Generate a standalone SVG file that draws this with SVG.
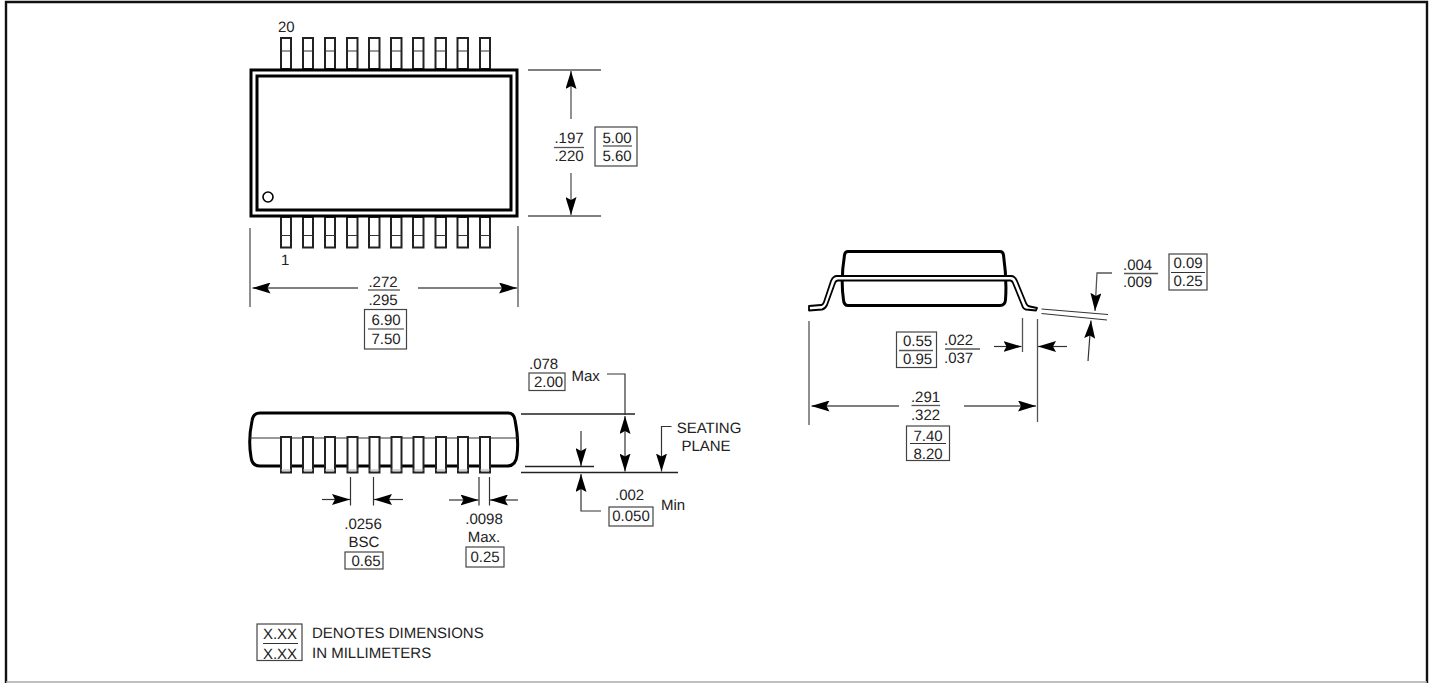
<svg xmlns="http://www.w3.org/2000/svg" width="1432" height="683" viewBox="0 0 1432 683">
<style>
text{font-family:"Liberation Sans",Arial,sans-serif;font-size:15px;fill:#222;text-rendering:geometricPrecision}
.m{text-anchor:middle}
.t{stroke:#555;stroke-width:1.3;fill:none}
.k{stroke:#333;stroke-width:1.2;fill:none}
.l{fill:#fff;stroke:#222;stroke-width:2}
.box{fill:#fff;stroke:#444;stroke-width:1.2}
</style>
<defs>
<marker id="a" viewBox="0 0 18 11" refX="18" refY="5.5" markerWidth="18" markerHeight="11" markerUnits="userSpaceOnUse" orient="auto-start-reverse"><path d="M0 0L18 5.5L0 11L3 5.5Z" fill="#000"/></marker>
</defs>
<rect width="1432" height="683" fill="#fff"/>
<g id="frame">
<path d="M6 683V2H1427V683" fill="none" stroke="#111" stroke-width="2.4"/>
<path d="M6 682H1427" fill="none" stroke="#aaa" stroke-width="1.4"/>
</g>
<g id="top-view">
<path class="l" d="M281 69V38H291V69ZM303 69V38H313V69ZM325 69V38H335V69ZM347 69V38H357.5V69ZM369 69V38H379.5V69ZM391 69V38H401.5V69ZM413 69V38H423.5V69ZM435.5 69V38H446V69ZM457.5 69V38H468V69ZM480 69V38H490V69Z"/>
<path class="k" d="M281 51H291M303 51H313M325 51H335M347 51H357M369 51H379M391 51H401M413 51H423M436 51H446M458 51H468M480 51H490"/>
<path class="l" d="M281 217V247.5H291V217ZM303 217V247.5H313V217ZM325 217V247.5H335V217ZM347 217V247.5H357.5V217ZM369 217V247.5H379.5V217ZM391 217V247.5H401.5V217ZM413 217V247.5H423.5V217ZM435.5 217V247.5H446V217ZM457.5 217V247.5H468V217ZM480 217V247.5H490V217Z"/>
<path class="k" d="M281 235.5H291M303 235.5H313M325 235.5H335M347 235.5H357M369 235.5H379M391 235.5H401M413 235.5H423M436 235.5H446M458 235.5H468M480 235.5H490"/>
<rect x="251" y="70" width="266" height="146" fill="#fff" stroke="#000" stroke-width="3"/>
<rect x="257" y="76" width="254" height="134" fill="#fff" stroke="#000" stroke-width="3"/>
<circle cx="268" cy="197" r="5" fill="#fff" stroke="#000" stroke-width="1.6"/>
<text x="278" y="32">20</text>
<text x="281" y="265">1</text>
</g>
<g id="bottom-view">
<path d="M260 413H508Q514 413 515 420Q519 440 517 455Q516 466 507 466H260Q252 466 251 457Q248 440 252 421Q253 413 260 413Z" fill="#fff" stroke="#000" stroke-width="3"/>
<path class="k" d="M250 438H518"/>
<path class="l" d="M281 437H291V472.5H281ZM303 437H313V472.5H303ZM325 437H335V472.5H325ZM347.5 437H357.5V472.5H347.5ZM369.5 437H379.5V472.5H369.5ZM391.5 437H401.5V472.5H391.5ZM413.5 437H423.5V472.5H413.5ZM436 437H446V472.5H436ZM458 437H468V472.5H458ZM480 437H490V472.5H480Z"/>
<path d="M281 470H291M303 470H313M325 470H335M347.5 470H357.5M369.5 470H379.5M391.5 470H401.5M413.5 470H423.5M436 470H446M458 470H468M480 470H490" stroke="#aaa" stroke-width="1" fill="none"/>
</g>
<g id="side-view">
<path d="M848 251.5H1000Q1003 251.5 1003.5 255Q1007 280 1005.5 300Q1005 305.5 1000 305.5H848Q844 305.5 843.5 300Q840.5 280 844.5 255Q845 251.5 848 251.5Z" fill="#fff" stroke="#000" stroke-width="3"/>
<path d="M809 306L821 305Q823 305 824 302L831 281Q833 276 837 276H1011Q1015 276 1017 281L1026 303Q1027 306 1030 306.5L1037 308L1036 310.5L1026 309.5Q1023 309 1022 305L1013 283Q1012 280.5 1010 280.5H838Q836 280.5 835 283L827 305Q825 309 822 309.5L809 310.5Z" fill="#fff" stroke="#000" stroke-width="1.8" stroke-linejoin="round"/>
</g>
<g id="connectors">
<path class="t" d="M528 70H601M528 216H601"/>
<path class="t" d="M571 119V71" marker-end="url(#a)"/>
<path class="t" d="M571 173V215" marker-end="url(#a)"/>
<path class="t" d="M250 228V307M518 226V307"/>
<path class="t" d="M358 288H252.5" marker-end="url(#a)"/>
<path class="t" d="M418 288H517" marker-end="url(#a)"/>
<path class="k" d="M350.5 477V505.5M373.5 477V505.5M479 477V505.5M489.5 477V505.5"/>
<path class="k" d="M322 499.5H350" marker-end="url(#a)"/>
<path class="k" d="M403 499.5H374" marker-end="url(#a)"/>
<path class="k" d="M449 500H478.5" marker-end="url(#a)"/>
<path class="k" d="M518 500H490" marker-end="url(#a)"/>
<path d="M521 414H635M525 466.5H594M521 472.5H678" stroke="#222" stroke-width="1.4" fill="none"/>
<path class="k" d="M607 374H625V415"/>
<path class="k" d="M625 440V416" marker-end="url(#a)"/>
<path class="k" d="M625 440V471.5" marker-end="url(#a)"/>
<path class="k" d="M581 431V466" marker-end="url(#a)"/>
<path class="k" d="M601 511H581V474" marker-end="url(#a)"/>
<path class="k" d="M671.5 426.5H661.5V471.5" marker-end="url(#a)"/>
<path class="t" d="M1112 273H1097L1095 311" marker-end="url(#a)"/>
<path class="k" d="M1041.5 309L1108 314.5M1041.5 313.5L1107 320"/>
<path class="k" d="M1088 361L1091 320.5" marker-end="url(#a)"/>
<path class="t" d="M809 321V425M1022.5 318V352M1037.5 319V422"/>
<path class="k" d="M994 346.5H1021.5" marker-end="url(#a)"/>
<path class="k" d="M1067 346.5H1038" marker-end="url(#a)"/>
<path class="t" d="M899 406H811.5" marker-end="url(#a)"/>
<path class="t" d="M964 406H1036" marker-end="url(#a)"/>
</g>
<g id="labels">
<g id="dim-height"><text class="m" x="569" y="143">.197</text><path class="t" d="M554 147.5H584"/><text class="m" x="569" y="161">.220</text>
<rect class="box" x="595" y="127" width="42" height="39"/><text class="m" x="617" y="143">5.00</text><path class="t" d="M603 146H632"/><text class="m" x="617" y="161">5.60</text></g>
<g id="dim-width"><text class="m" x="383" y="287">.272</text><path class="t" d="M368 290H400"/><text class="m" x="383" y="305">.295</text>
<rect class="box" x="364.5" y="309.5" width="42" height="39.5"/><text class="m" x="386" y="325">6.90</text><path class="k" d="M368 329H404"/><text class="m" x="386" y="343.5">7.50</text></g>
<g id="dim-pitch"><text class="m" x="363" y="529">.0256</text><text class="m" x="364" y="547">BSC</text><rect class="box" x="345" y="552" width="38" height="17"/><text class="m" x="366" y="566">0.65</text></g>
<g id="dim-lead"><text class="m" x="484" y="524">.0098</text><text class="m" x="484" y="542">Max.</text><rect class="box" x="466" y="547" width="38" height="20"/><text class="m" x="485" y="562">0.25</text></g>
<g id="dim-max"><text x="529" y="369">.078</text><rect class="box" x="529" y="373" width="36" height="17.500"/><text class="m" x="548.500" y="387">2.00</text><text x="571.500" y="381">Max</text></g>
<g id="dim-min"><text x="615" y="500">.002</text><rect class="box" x="609" y="507" width="44" height="19"/><text class="m" x="631" y="521">0.050</text><text x="661" y="510">Min</text></g>
<g id="seating"><text class="m" x="709" y="433">SEATING</text><text class="m" x="706" y="451">PLANE</text></g>
<g id="dim-thick"><text x="1123" y="270">.004</text><path class="t" d="M1124 273.500H1158"/><text x="1123" y="287">.009</text><rect class="box" x="1169" y="254" width="38" height="36"/><text class="m" x="1188" y="268">0.09</text><path class="k" d="M1171 272.500H1205"/><text class="m" x="1188" y="286">0.25</text></g>
<g id="dim-foot"><rect class="box" x="896.500" y="332" width="40" height="35.500"/><text class="m" x="917.500" y="346">0.55</text><path class="t" d="M899 350.500H933"/><text class="m" x="917.500" y="363.500">0.95</text><text x="944" y="345">.022</text><path class="t" d="M945 349H980"/><text x="944" y="362.500">.037</text></g>
<g id="dim-span"><text class="m" x="925.500" y="401.500">.291</text><path class="t" d="M911.500 405.500H940"/><text class="m" x="925.500" y="420">.322</text><rect class="box" x="906.500" y="426" width="43" height="34.500"/><text class="m" x="928" y="440.500">7.40</text><path class="k" d="M910 443.500H946"/><text class="m" x="928" y="458.500">8.20</text></g>
<g id="legend"><rect class="box" x="257" y="624" width="45" height="36.500"/><text class="m" x="280" y="638.500">X.XX</text><path class="k" d="M263 643.500H298"/><text class="m" x="280" y="658.500">X.XX</text><text x="312" y="637.500">DENOTES DIMENSIONS</text><text x="312" y="657.500">IN MILLIMETERS</text></g>
</g>
</svg>
